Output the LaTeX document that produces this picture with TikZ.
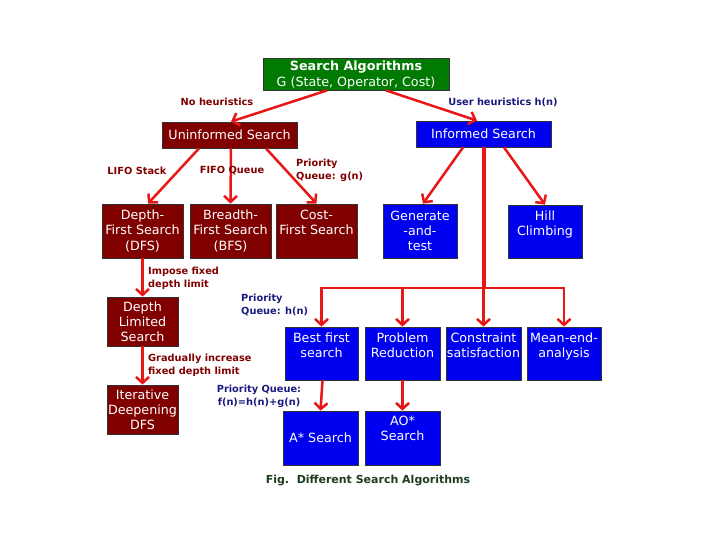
\documentclass[tikz,border=0pt]{standalone}
\usepackage{fontspec}
\setmainfont{DejaVu Sans}
\usetikzlibrary{arrows.meta,calc}
\definecolor{maroonbox}{RGB}{128,0,0}
\definecolor{bluebox}{RGB}{0,0,240}
\definecolor{greenbox}{RGB}{0,122,0}
\definecolor{arrowred}{RGB}{232,22,22}
\definecolor{lblred}{RGB}{128,0,0}
\definecolor{lblnavy}{RGB}{26,26,128}
\definecolor{capgreen}{RGB}{30,61,30}
\tikzset{
  basebox/.style={draw=black!80, line width=0.8pt, inner sep=0pt},
  ubox/.style={basebox, fill=maroonbox},
  ibox/.style={basebox, fill=bluebox},
  gbox/.style={basebox, fill=greenbox},
  btext/.style={text=white, align=center, inner sep=0pt, font=\fontsize{12.7}{15.2}\selectfont},
  lbl/.style={inner sep=0pt, font=\bfseries\fontsize{9.8}{12.8}\selectfont},
  conn/.style={draw=arrowred, line width=2.5pt, -{Straight Barb[length=6pt,width=13pt]}},
  trunk/.style={draw=arrowred, line width=4pt},
}
\begin{document}
\begin{tikzpicture}[x=1pt,y=-1pt]
\useasboundingbox (0,0) rectangle (720,540);
% root
\node[gbox, minimum width=186, minimum height=32] (root) at (356,74) {};
\node[btext] at (356,75) {{\bfseries Search Algorithms}\\G (State, Operator, Cost)};
% second level
\node[ubox, minimum width=135, minimum height=26] (uninf) at (229.5,135) {};
\node[btext] at (uninf) {Uninformed Search};
\node[ibox, minimum width=135, minimum height=26] (inf) at (483.5,134) {};
\node[btext] at (inf) {Informed Search};
% uninformed children
\node[ubox, minimum width=81, minimum height=54] (dfs) at (142.5,231) {};
\node[btext] at (dfs) {Depth-\\First Search\\(DFS)};
\node[ubox, minimum width=81, minimum height=54] (bfs) at (230.5,231) {};
\node[btext] at (bfs) {Breadth-\\First Search\\(BFS)};
\node[ubox, minimum width=81, minimum height=54] (cfs) at (316.5,231) {};
\node[btext, anchor=north] at ($(cfs.north)+(0,6)$) {Cost-\\First Search};
\node[ubox, minimum width=71, minimum height=49] (dls) at (142.5,321.5) {};
\node[btext] at (dls) {Depth\\Limited\\Search};
\node[ubox, minimum width=71, minimum height=49] (iddfs) at (142.5,409.5) {};
\node[btext] at (iddfs) {Iterative\\Deepening\\DFS};
% informed children
\node[ibox, minimum width=74, minimum height=54] (gen) at (420,231) {};
\node[btext] at (gen) {Generate\\-and-\\test};
\node[ibox, minimum width=74, minimum height=53] (hill) at (545,231.5) {};
\node[btext, anchor=north] at ($(hill.north)+(0,6)$) {Hill\\Climbing};
\node[ibox, minimum width=73, minimum height=53] (best) at (321.5,353.5) {};
\node[btext, anchor=north] at ($(best.north)+(0,6)$) {Best first\\search};
\node[ibox, minimum width=75, minimum height=53] (prob) at (402.5,353.5) {};
\node[btext, anchor=north] at ($(prob.north)+(0,6)$) {Problem\\Reduction};
\node[ibox, minimum width=75, minimum height=53] (cons) at (483.5,353.5) {};
\node[btext, anchor=north] at ($(cons.north)+(0,6)$) {Constraint\\satisfaction};
\node[ibox, minimum width=74, minimum height=53] (mean) at (564,353.5) {};
\node[btext, anchor=north] at ($(mean.north)+(0,6)$) {Mean-end-\\analysis};
\node[ibox, minimum width=75, minimum height=54] (astar) at (320.5,438) {};
\node[btext] at (astar) {A* Search};
\node[ibox, minimum width=75, minimum height=54] (aostar) at (402.5,438) {};
\node[btext, anchor=north] at ($(aostar.north)+(0,5)$) {AO*\\Search};
% connectors
\draw[conn] ([xshift=-29pt]root.south) -- ([xshift=1.5pt]uninf.north);
\draw[conn] ([xshift=30pt]root.south) -- ([xshift=-6.5pt]inf.north);
\draw[conn] ([xshift=-30.5pt]uninf.south) -- ([xshift=5.5pt]dfs.north);
\draw[conn] ([xshift=1.5pt]uninf.south) -- (bfs.north);
\draw[conn] ([xshift=36.5pt]uninf.south) -- (cfs.north);
\draw[conn] ([xshift=-20.5pt]inf.south) -- ([xshift=3pt]gen.north);
\draw[conn] ([xshift=20.5pt]inf.south) -- (hill.north);
\coordinate (hub) at (483.5,288);
\draw[trunk] (inf.south) -- (hub);
\draw[conn] (hub) -| (best.north);
\draw[conn] (hub) -| (prob.north);
\draw[conn] (hub) -- (cons.north);
\draw[conn] (hub) -| (mean.north);
\draw[conn] (dfs.south) -- (dls.north);
\draw[conn] (dls.south) -- (iddfs.north);
\draw[conn] ([xshift=1pt]best.south) -- (astar.north);
\draw[conn] (prob.south) -- (aostar.north);
% labels
\node[lbl, text=lblred] (l1) at (217,102) {No heuristics};
\node[lbl, text=lblnavy] (l2) at (503,102) {User heuristics h(n)};
\node[lbl, text=lblred] (l3) at (137,171) {LIFO Stack};
\node[lbl, text=lblred] (l4) at (232,171) {FIFO Queue};
\node[lbl, text=lblred, align=left, anchor=west] (l5) at (296,170.5) {Priority\\Queue: g(n)};
\node[lbl, text=lblred, align=left, anchor=west] (l6) at (148,278) {Impose fixed\\depth limit};
\node[lbl, text=lblred, align=left, anchor=west] (l7) at (148,365) {Gradually increase\\fixed depth limit};
\node[lbl, text=lblnavy, align=left, anchor=west] (l8) at (241,305) {Priority\\Queue: h(n)};
\node[lbl, text=lblnavy, align=center] (l9) at (259,396.5) {Priority Queue:\\f(n)=h(n)+g(n)};
\node[inner sep=0pt, text=capgreen, font=\bfseries\fontsize{11}{13}\selectfont] (cap) at (368,481) {Fig.\ \ Different Search Algorithms};
\end{tikzpicture}
\end{document}
